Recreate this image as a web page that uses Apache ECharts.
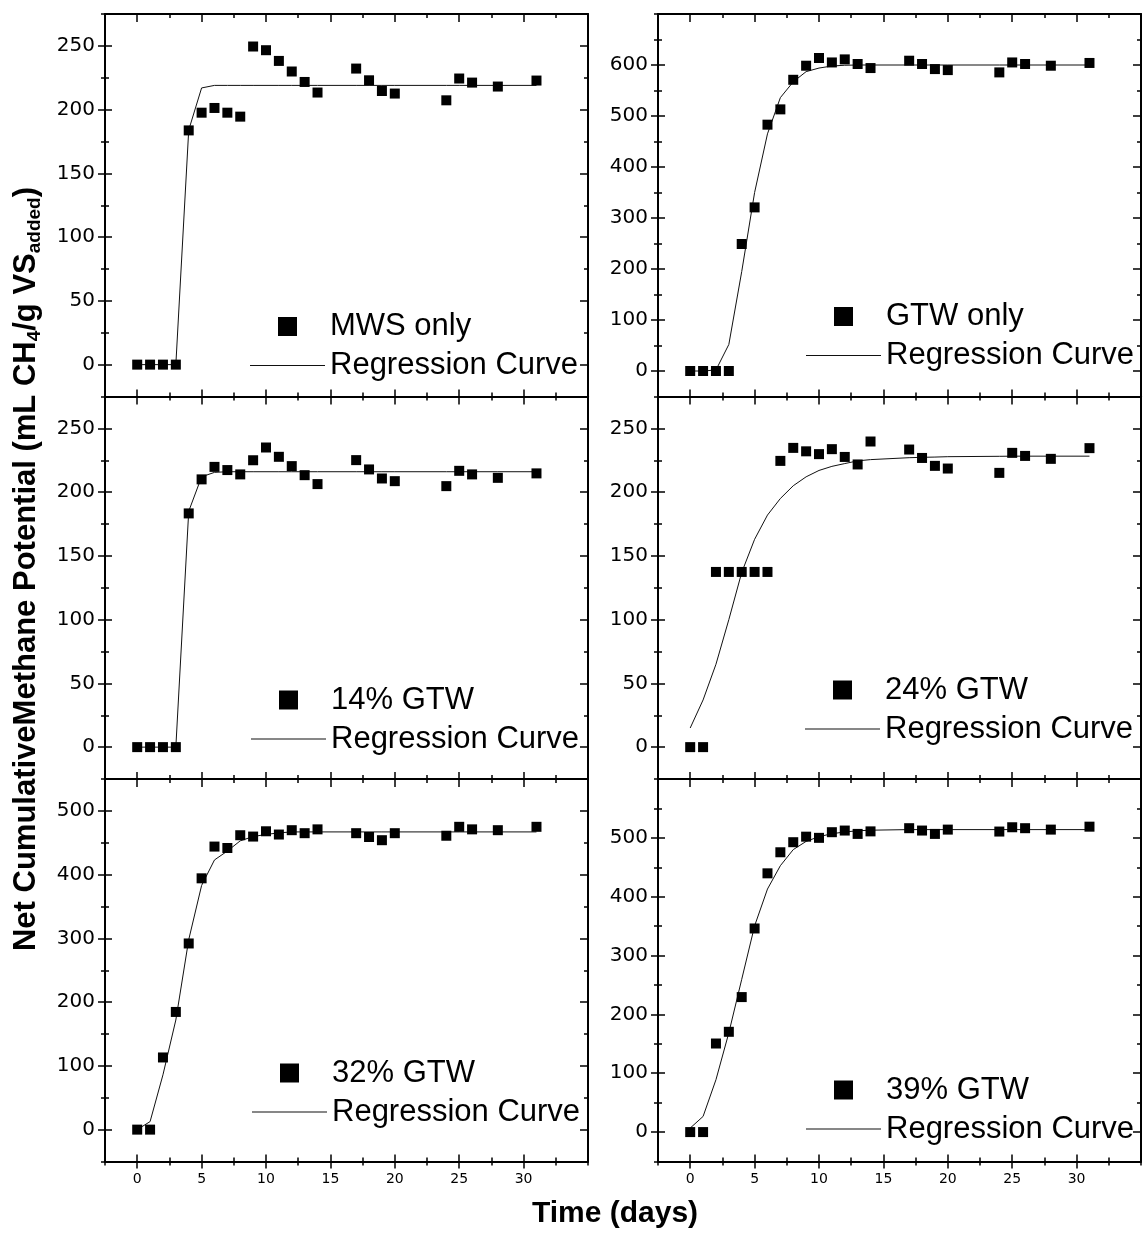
<!DOCTYPE html>
<html><head><meta charset="utf-8">
<script src="https://cdn.jsdelivr.net/npm/echarts@6/dist/echarts.min.js"></script>
<style>html,body{margin:0;padding:0;background:#fff}#c{width:1143px;height:1237px}</style>
</head><body><div id="c"></div>
<script>
// ---- data ----
const days = [0,1,2,3,4,5,6,7,8,9,10,11,12,13,14,17,18,19,20,24,25,26,28,31];

const mwsOnly = [0,0,0,0,183.7,197.6,201.3,197.6,194.5,249.5,246.6,238.2,229.9,221.7,213.4,232.2,223,214.6,212.6,207.3,224.4,221.2,218.1,222.8];
const mwsFit  = [0,0,0,0,184,217,219,219,219,219,219,219,219,219,219,219,219,219,219,219,219,219,219,219];

const gtwOnly = [0,0,0,0,249,320.8,483,513,571,598.6,613.7,605,611,602,594,608.4,602,592,590,585.5,605,602,598.6,604];
const gtwFit  = [0,0,2,52,195,350,465,536,567,587,594,598,599.5,600,600,600,600,600,600,600,600,600,600,600];

const gtw14 = [0,0,0,0,183.3,210,219.8,217.3,213.9,225,235,227.7,220.4,213.3,206.3,225.1,217.8,210.7,208.6,204.7,216.7,213.9,211.2,214.7];
const gtw14Fit = [0,0,0,0,185,212,215.5,216,216,216,216,216,216,216,216,216,216,216,216,216,216,216,216,216];

const gtw24 = [0,0,137.4,137.4,137.4,137.4,137.4,224.5,234.7,232,229.8,233.7,227.6,221.7,239.7,233.4,226.8,220.6,218.5,215.1,230.8,228.4,226.1,234.5];
const gtw24Fit = [15,37,65,100,137,163,182,195,205,212,217,220.2,222.4,224.5,225.5,227,227.3,227.5,227.8,228.1,228.2,228.2,228.2,228.2];

const gtw32 = [0,0,113.2,184.6,292,394.2,444,441.8,461.8,459.7,468,462.9,469.7,465,471,465,459,454,465,461,475,471,469.7,475];
const gtw32Fit = [0,12.6,86,172,298,383,423,437,453,459.7,463,465.5,467,467,467,467,467,467,467,467,467,467,467,467];

const gtw39 = [0,0,150.5,170.4,229.4,346,439.7,475.5,492.6,502,500,509.6,512.4,506.7,511,516.4,512.4,506.7,514,510.7,518,516.4,514,519];
const gtw39Fit = [6.8,26.6,89,168.7,259.6,350.4,413,452.7,480,494,502,507,510,512,513,514,514,514,514,514,514,514,514,514];

const seriesNames = ['MWS only','GTW only','14% GTW','24% GTW','32% GTW','39% GTW'];
const measured = [mwsOnly, gtwOnly, gtw14, gtw24, gtw32, gtw39];
const fitted = [mwsFit, gtwFit, gtw14Fit, gtw24Fit, gtw32Fit, gtw39Fit];
const fitName = 'Regression Curve';

const xTickLabels = [0,5,10,15,20,25,30];
const yTickLabels = [
  [0,50,100,150,200,250],
  [0,100,200,300,400,500,600],
  [0,50,100,150,200,250],
  [0,50,100,150,200,250],
  [0,100,200,300,400,500],
  [0,100,200,300,400,500]
];
const yRanges = [[-25,275],[-50,700],[-25,275],[-25,275],[-50,550],[-50,600]];
const yMinorStep = [25,50,25,25,50,50];
const xRange = [-2.5,35];
const xMinorStep = 2.5;

// ---- layout ----
const colLeft = [105, 658];
const rowTop = [14, 396.5, 779];
const W = 483, H = 382.5;
const legendPos = [[250,310],[806,300],[251,683.5],[805,673.5],[252,1056.5],[806,1073.5]];
const SQUARE = 'path://M0,0L10,0L10,10L0,10Z';
const LINE_ICON = 'path://M0,0L75,0L75,1.2L0,1.2Z';
const BLACK = '#000';
const tickFont = 'DejaVu Sans';
const textFont = '"Liberation Sans", Arial, sans-serif';

const grid = [], xAxis = [], yAxis = [], series = [], legend = [];

function axisBase(gi, range, extra) {
  return Object.assign({
    gridIndex: gi, type: 'value', min: range[0], max: range[1],
    splitLine: {show: false},
    axisLine: {show: false, onZero: false},
    axisLabel: {show: false},
    axisTick: {show: false}
  }, extra);
}

for (let i = 0; i < 6; i++) {
  const col = i % 2, row = Math.floor(i / 2);
  grid.push({left: colLeft[col], top: rowTop[row], width: W, height: H});
  const xi = xAxis.length, yi = yAxis.length;
  const tickLine = {color: BLACK, width: 1.5};
  // x axes
  xAxis.push(axisBase(i, xRange, {
    position: 'bottom',
    axisLine: {show: true, onZero: false, lineStyle: {color: BLACK, width: 2}},
    axisTick: {show: true, inside: true, length: 7, customValues: xTickLabels, lineStyle: tickLine},
    axisLabel: {show: row === 2, customValues: xTickLabels, color: BLACK, fontSize: 14, fontFamily: tickFont, margin: 11}
  }));
  xAxis.push(axisBase(i, xRange, {position: 'bottom',
    axisTick: {show: true, inside: false, length: 7, customValues: xTickLabels, lineStyle: tickLine}}));
  xAxis.push(axisBase(i, xRange, {position: 'bottom', interval: xMinorStep,
    axisTick: {show: true, inside: true, length: 4, lineStyle: tickLine}}));
  xAxis.push(axisBase(i, xRange, {position: 'bottom', interval: xMinorStep,
    axisTick: {show: true, inside: false, length: 4, lineStyle: tickLine}}));
  xAxis.push(axisBase(i, xRange, {position: 'top',
    axisLine: {show: true, onZero: false, lineStyle: {color: BLACK, width: 2}},
    axisTick: {show: true, inside: true, length: 8, customValues: xTickLabels, lineStyle: tickLine}}));
  xAxis.push(axisBase(i, xRange, {position: 'top', interval: xMinorStep,
    axisTick: {show: true, inside: true, length: 4, lineStyle: tickLine}}));
  // y axes
  const yr = yRanges[i], yt = yTickLabels[i], ym = yMinorStep[i];
  yAxis.push(axisBase(i, yr, {
    position: 'left',
    axisLine: {show: true, onZero: false, lineStyle: {color: BLACK, width: 2}},
    axisTick: {show: true, inside: true, length: 7, customValues: yt, lineStyle: tickLine},
    axisLabel: {show: true, customValues: yt, color: BLACK, fontSize: 20, fontFamily: tickFont, margin: 10}
  }));
  yAxis.push(axisBase(i, yr, {position: 'left',
    axisTick: {show: true, inside: false, length: 7, customValues: yt, lineStyle: tickLine}}));
  yAxis.push(axisBase(i, yr, {position: 'left', interval: ym,
    axisTick: {show: true, inside: true, length: 4, lineStyle: tickLine}}));
  yAxis.push(axisBase(i, yr, {position: 'left', interval: ym,
    axisTick: {show: true, inside: false, length: 4, lineStyle: tickLine}}));
  yAxis.push(axisBase(i, yr, {position: 'right',
    axisLine: {show: true, onZero: false, lineStyle: {color: BLACK, width: 2}},
    axisTick: {show: true, inside: true, length: 8, customValues: yt, lineStyle: tickLine}}));
  yAxis.push(axisBase(i, yr, {position: 'right', interval: ym,
    axisTick: {show: true, inside: true, length: 4, lineStyle: tickLine}}));

  series.push({
    name: fitName, type: 'line', xAxisIndex: xi, yAxisIndex: yi,
    data: days.map((d, k) => [d, fitted[i][k]]),
    symbol: 'none', smooth: false, z: 2,
    lineStyle: {color: '#111', width: 1}, itemStyle: {color: '#111'}
  });
  series.push({
    name: seriesNames[i], type: 'scatter', xAxisIndex: xi, yAxisIndex: yi,
    data: days.map((d, k) => [d, measured[i][k]]),
    symbol: 'rect', symbolSize: 10, z: 3,
    itemStyle: {color: BLACK, opacity: 1}
  });
  legend.push({
    orient: 'vertical', left: legendPos[i][0], top: legendPos[i][1], padding: 0,
    itemGap: 6, itemWidth: 75, itemHeight: 19, symbolKeepAspect: true, selectedMode: false,
    textStyle: {fontSize: 31, fontFamily: textFont, color: BLACK, lineHeight: 33},
    data: [
      {name: seriesNames[i], icon: SQUARE, itemStyle: {color: BLACK, opacity: 1}},
      {name: fitName, icon: LINE_ICON, itemStyle: {color: '#111', opacity: 1}}
    ]
  });
}

const option = {
  animation: false,
  backgroundColor: '#fff',
  grid, xAxis, yAxis, series, legend,
  graphic: [
    {
      type: 'text', x: 615, y: 1214,
      style: {text: 'Time (days)', font: 'bold 30px ' + textFont, fill: BLACK, align: 'center', verticalAlign: 'middle'}
    },
    {
      type: 'text', x: 26, y: 569, rotation: Math.PI / 2,
      style: {
        text: '{b|Net CumulativeMethane Potential (mL CH}{s|4}{b|/g VS}{s|added}{b|)}',
        align: 'center', verticalAlign: 'middle', fill: BLACK,
        rich: {
          b: {fontSize: 31, fontWeight: 'bold', fontFamily: textFont, lineHeight: 36, fill: BLACK},
          s: {fontSize: 19, fontWeight: 'bold', fontFamily: textFont, lineHeight: 19, verticalAlign: 'bottom', fill: BLACK}
        }
      }
    }
  ]
};
const chart = echarts.init(document.getElementById('c'));
chart.setOption(option);
</script>
</body></html>
